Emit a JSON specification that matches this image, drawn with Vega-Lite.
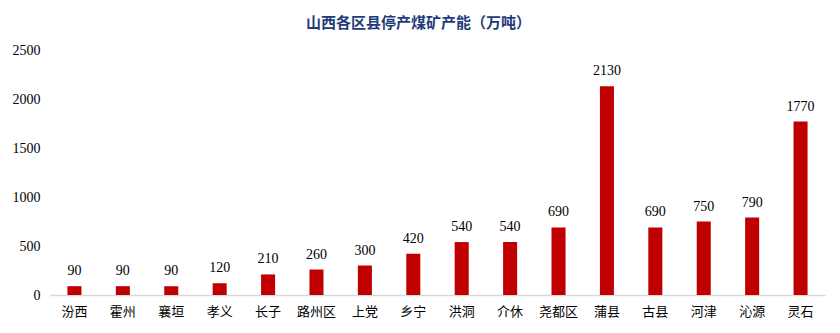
{
  "$schema": "https://vega.github.io/schema/vega-lite/v6.json",
  "autosize": {"type": "none"},
  "width": 775,
  "height": 245,
  "padding": {"left": 50, "top": 50, "right": 15, "bottom": 38},
  "background": "white",
  "title": {
    "text": "山西各区县停产煤矿产能（万吨）",
    "font": "Noto Sans CJK SC",
    "fontSize": 15,
    "fontWeight": "bold",
    "color": "#1F3B7A",
    "anchor": "middle",
    "dx": -19,
    "offset": 12
  },
  "config": {
    "view": {"stroke": null},
    "axis": {"labelFont": "Liberation Serif", "labelColor": "#000000", "labelFontSize": 14}
  },
  "data": {
    "values": [
      {"region": "汾西", "value": 90},
      {"region": "霍州", "value": 90},
      {"region": "襄垣", "value": 90},
      {"region": "孝义", "value": 120},
      {"region": "长子", "value": 210},
      {"region": "路州区", "value": 260},
      {"region": "上党", "value": 300},
      {"region": "乡宁", "value": 420},
      {"region": "洪洞", "value": 540},
      {"region": "介休", "value": 540},
      {"region": "尧都区", "value": 690},
      {"region": "蒲县", "value": 2130},
      {"region": "古县", "value": 690},
      {"region": "河津", "value": 750},
      {"region": "沁源", "value": 790},
      {"region": "灵石", "value": 1770}
    ]
  },
  "encoding": {
    "x": {
      "field": "region",
      "type": "nominal",
      "sort": null,
      "scale": {"paddingInner": 0.71, "paddingOuter": 0.36},
      "axis": {
        "title": null,
        "labelAngle": 0,
        "labelFont": "Noto Sans CJK SC",
        "labelFontSize": 13,
        "labelColor": "#000000",
        "labelPadding": 10,
        "ticks": false,
        "domainColor": "#D9D9D9",
        "domainWidth": 1.5,
        "grid": false
      }
    },
    "y": {
      "field": "value",
      "type": "quantitative",
      "scale": {"domain": [0, 2500]},
      "axis": {
        "title": null,
        "format": "d",
        "values": [0, 500, 1000, 1500, 2000, 2500],
        "domain": false,
        "ticks": false,
        "grid": false,
        "labelPadding": 10
      }
    }
  },
  "layer": [
    {"mark": {"type": "bar", "color": "#C00000"}},
    {
      "mark": {"type": "text", "dy": -15, "font": "Liberation Serif", "fontSize": 14, "color": "#000000"},
      "encoding": {"text": {"field": "value", "type": "quantitative"}}
    }
  ]
}
